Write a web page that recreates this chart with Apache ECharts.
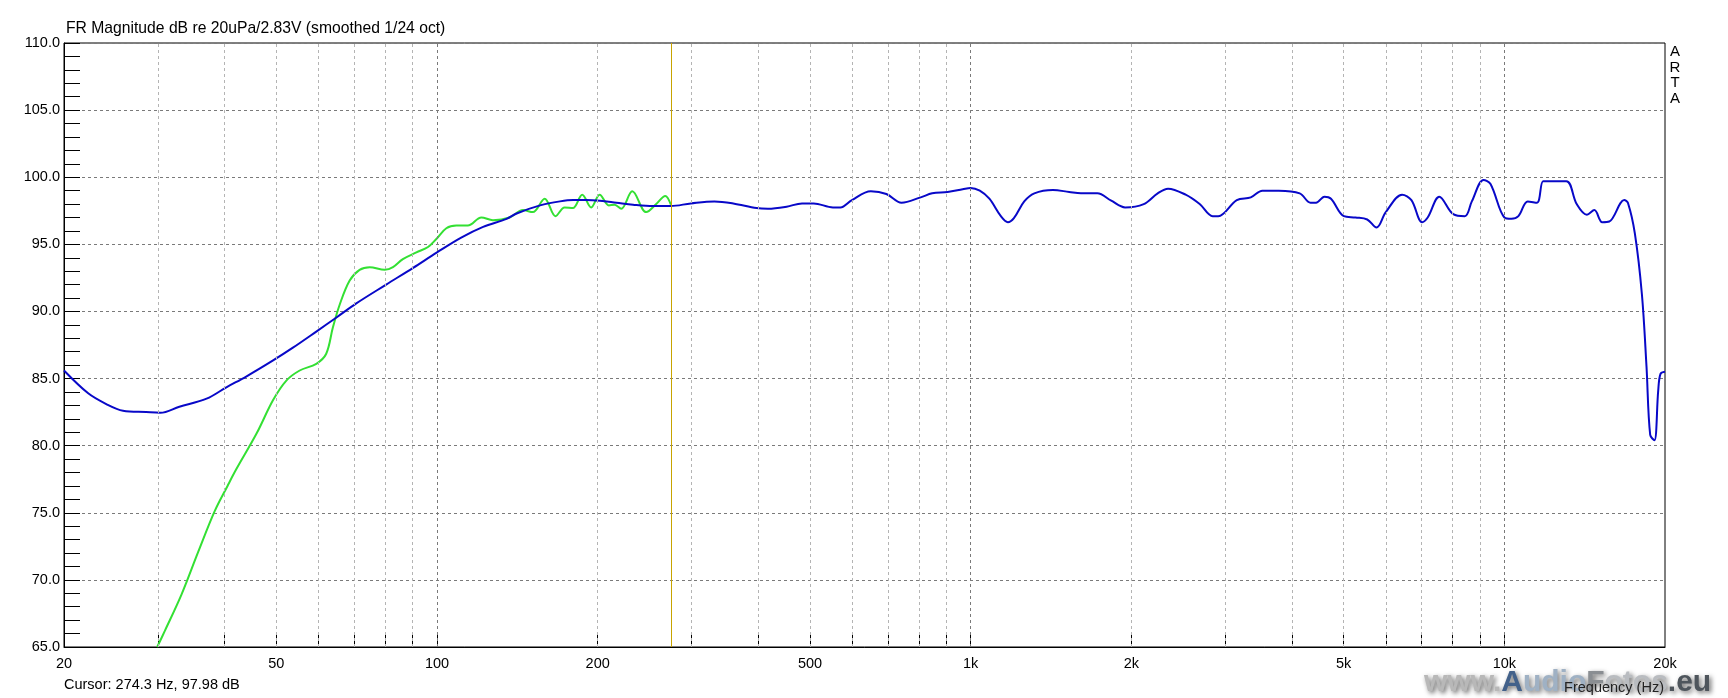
<!DOCTYPE html>
<html>
<head>
<meta charset="utf-8">
<script src="https://cdn.jsdelivr.net/npm/echarts@6/dist/echarts.min.js"></script>
<style>
html,body{margin:0;padding:0;background:#fff;}
#c{width:1728px;height:698px;}
</style>
</head>
<body>
<div id="c"></div>
<script>
// ---- data ----
const blueFreq = [20,22.2,24,25.8,28.5,30.3,32.9,37,40.3,43.9,49.3,53.7,59.4,64.8,70.6,80.3,90.2,100,111,122,135,141,156,170,180,190,202,217,233,254,274,299,331,359,397,417,452,483,508,552,570,599,650,695,742,806,847,905,966,999,1040,1084,1139,1174,1205,1260,1316,1426,1530,1609,1727,1834,1947,2110,2241,2343,2528,2686,2841,2910,3153,3349,3521,3777,4136,4332,4438,4602,4733,5004,5261,5534,5760,5996,6433,6697,7012,7184,7552,8021,8433,8691,9141,9421,10003,10310,10625,11060,11515,11821,12107,13069,13663,14278,14746,15256,15726,16772,17042,17563,18101,18466,18763,19109,19423,19616,20000];
const blueDb = [85.6,83.9,83.1,82.6,82.5,82.45,82.9,83.5,84.35,85.15,86.35,87.3,88.5,89.55,90.6,92.0,93.25,94.4,95.5,96.3,96.9,97.3,97.9,98.2,98.3,98.3,98.25,98.1,97.95,97.85,97.85,98.05,98.2,98.05,97.7,97.65,97.8,98.05,98.05,97.75,97.75,98.3,98.95,98.75,98.1,98.5,98.8,98.9,99.1,99.2,99.0,98.4,97.1,96.65,96.95,98.2,98.8,99.05,98.9,98.8,98.8,98.25,97.75,98.0,98.8,99.15,98.7,98.0,97.1,97.1,98.3,98.5,99.0,99.0,98.8,98.1,98.1,98.55,98.4,97.1,97.0,96.85,96.25,97.4,98.7,98.3,96.65,97.0,98.55,97.25,97.1,98.2,99.8,99.5,97.0,96.9,97.1,98.2,98.1,99.7,99.7,99.7,98.0,97.2,97.55,96.65,96.7,98.3,98.1,95.8,91.3,85.9,80.8,80.4,84.1,85.35,85.5];

const greenFreq = [29.9,30.9,33.2,35.7,38.3,40.5,42,45.9,49.3,52.2,55.3,59.4,62,63.8,65.7,68.6,71.6,74.8,79.8,82.7,86.3,91.5,96.2,99.7,104.1,108.7,114.2,121.1,127.3,136.8,144.9,151.2,159.1,166.8,173.4,179.7,187.1,194.5,201.7,209.9,215.1,221.4,232.2,246.6,257.5,267.7,274.3];
const greenDb = [65.0,66.2,68.9,72.1,75.1,77.0,78.2,80.9,83.4,84.85,85.6,86.1,86.85,88.8,90.5,92.3,93.1,93.3,93.1,93.3,93.9,94.4,94.8,95.4,96.2,96.4,96.4,97.0,96.8,97.0,97.55,97.4,98.4,97.1,97.75,97.7,98.7,97.75,98.7,97.9,97.95,97.65,98.95,97.4,98.0,98.6,97.95];

const xTickValues = [30,40,50,60,70,80,90,100,200,300,400,500,600,700,800,900,1000,2000,3000,4000,5000,6000,7000,8000,9000,10000];
const xMajorGrid = [100,1000,10000];
const xLabelValues = [20,50,100,200,500,1000,2000,5000,10000,20000];
const xLabelTexts = ['20','50','100','200','500','1k','2k','5k','10k','20k'];
const cursorFreq = 274.3;

const titleText = 'FR Magnitude dB re 20uPa/2.83V (smoothed 1/24 oct)';
const cursorText = 'Cursor: 274.3 Hz, 97.98 dB';
const xAxisName = 'Frequency (Hz)';

// ---- chart ----
const FONT = '"Liberation Sans", Arial, sans-serif';
const chart = echarts.init(document.getElementById('c'), null, {renderer: 'canvas'});

const pairs = (xs, ys) => xs.map((x, i) => [x, ys[i]]);

const gridLines = xTickValues.map(v => ({
  xAxis: v,
  lineStyle: {
    color: xMajorGrid.includes(v) ? '#7a7a7a' : '#b4b4b4',
    type: [3, 3], width: 1
  }
}));

const shadow = {textShadowColor: 'rgba(0,0,0,0.6)', textShadowBlur: 5, textShadowOffsetX: 2, textShadowOffsetY: 2};
const wm = (fill) => Object.assign({fill: fill, font: 'bold 30px ' + FONT}, shadow);

const option = {
  animation: false,
  backgroundColor: '#ffffff',
  grid: {left: 64, top: 43, width: 1601, height: 604, show: true, borderColor: '#000', borderWidth: 1, backgroundColor: 'transparent'},
  xAxis: {
    type: 'log', logBase: 10, min: 20, max: 20000,
    axisLine: {show: true, lineStyle: {color: '#000', width: 1}},
    axisTick: {show: true, inside: true, length: 14, lineStyle: {color: '#000'}, customValues: xTickValues},
    axisLabel: {
      show: true, customValues: xLabelValues, margin: 9,
      color: '#000', fontSize: 14.5, fontFamily: FONT,
      formatter: v => { const i = xLabelValues.indexOf(Math.round(v)); return i >= 0 ? xLabelTexts[i] : ''; }
    },
    splitLine: {show: false}, minorTick: {show: false}, minorSplitLine: {show: false}
  },
  yAxis: {
    type: 'value', min: 65, max: 110, interval: 5,
    axisLine: {show: true, lineStyle: {color: '#000', width: 1}},
    axisTick: {show: true, inside: true, length: 16, lineStyle: {color: '#000'}},
    minorTick: {show: true, splitNumber: 5, length: 16, lineStyle: {color: '#000'}},
    axisLabel: {color: '#000', fontSize: 14.5, fontFamily: FONT, margin: 4, formatter: v => v.toFixed(1)},
    splitLine: {show: true, lineStyle: {color: '#7a7a7a', type: [3, 3], width: 1}}
  },
  series: [
    {
      type: 'line', name: 'grid', data: [], z: 1, silent: true,
      markLine: {silent: true, symbol: ['none', 'none'], label: {show: false}, animation: false, data: gridLines}
    },
    {
      type: 'line', name: 'green', data: pairs(greenFreq, greenDb), z: 3,
      showSymbol: false, symbol: 'none', smooth: 0.35, clip: true,
      lineStyle: {color: '#33e033', width: 2}
    },
    {
      type: 'line', name: 'blue', data: pairs(blueFreq, blueDb), z: 4,
      showSymbol: false, symbol: 'none', smooth: 0.35, clip: true,
      lineStyle: {color: '#0808c8', width: 2},
      markLine: {
        silent: true, symbol: ['none', 'none'], label: {show: false}, animation: false,
        data: [{xAxis: cursorFreq, lineStyle: {color: '#c8a400', width: 1, type: 'solid'}}]
      }
    }
  ],
  graphic: [
    {type: 'text', left: 66, top: 21, style: {text: titleText, fill: '#000', font: '15.7px ' + FONT}},
    {type: 'text', left: 64, top: 677, style: {text: cursorText, fill: '#000', font: '14.5px ' + FONT}},
    {type: 'text', x: 1675, y: 44, style: {text: 'A\nR\nT\nA', fill: '#000', font: '15px ' + FONT, lineHeight: 15.7, textAlign: 'center'}},
    {
      type: 'text', x: 1424, y: 698, z: 5,
      style: {
        text: '{w|www.}{a|A}{u|udio}{f|F}{o|otos}{e|.eu}',
        textVerticalAlign: 'bottom',
        rich: {
          w: wm('#b8b8b8'),
          a: wm('#42618a'),
          u: wm('#9fb1c4'),
          f: wm('#8a8e92'),
          o: wm('#b9bcc0'),
          e: wm('#4e555c')
        }
      }
    },
    {type: 'text', x: 1664, y: 688, z: 10, style: {text: xAxisName, fill: '#222', font: '14.5px ' + FONT, textAlign: 'right', textVerticalAlign: 'middle'}}
  ]
};
chart.setOption(option);
</script>
</body>
</html>
